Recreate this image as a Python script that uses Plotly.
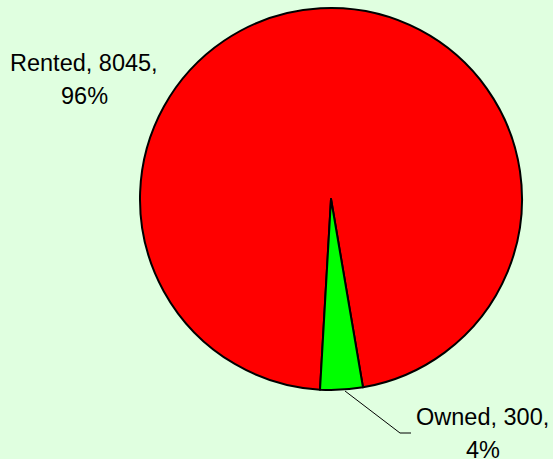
import plotly.graph_objects as go

labels = ["Rented", "Owned"]
values = [8045, 300]
percents = ["96%", "4%"]
colors = ["#FF0000", "#00FF00"]

W, H = 553, 459
cx, cy, r = 331, 199, 191

fig = go.Figure(go.Pie(
    labels=labels, values=values, sort=False, direction="clockwise",
    rotation=183.3,
    marker=dict(colors=colors, line=dict(color="black", width=2)),
    textinfo="none", hoverinfo="label+value+percent",
    domain=dict(x=[(cx - r) / W, (cx + r) / W], y=[1 - (cy + r) / H, 1 - (cy - r) / H]),
    showlegend=False,
))

font = dict(family="Liberation Sans, Arial, sans-serif", size=23.5, color="black")
label_pos = [((84, 63), (84, 96)), ((482, 417), (483, 450))]
for i, ((x1, y1), (x2, y2)) in enumerate(label_pos):
    fig.add_annotation(x=x1 / W, y=1 - y1 / H, xref="paper", yref="paper",
                       text=f"{labels[i]}, {values[i]},", showarrow=False,
                       font=font, xanchor="center", yanchor="middle")
    fig.add_annotation(x=x2 / W, y=1 - y2 / H, xref="paper", yref="paper",
                       text=percents[i], showarrow=False,
                       font=font, xanchor="center", yanchor="middle")
# leader line for Owned
fig.add_shape(type="path", xref="paper", yref="paper",
              path=f"M {345/W} {1-391/H} L {400/W} {1-433/H} L {411/W} {1-433/H}",
              line=dict(color="black", width=1))

fig.update_layout(
    width=W, height=H, margin=dict(l=0, r=0, t=0, b=0),
    paper_bgcolor="#E0FFE0", plot_bgcolor="#E0FFE0",
)
fig.write_html("out.html", config={"displayModeBar": False},
               post_script="document.body.style.margin='0px';")
